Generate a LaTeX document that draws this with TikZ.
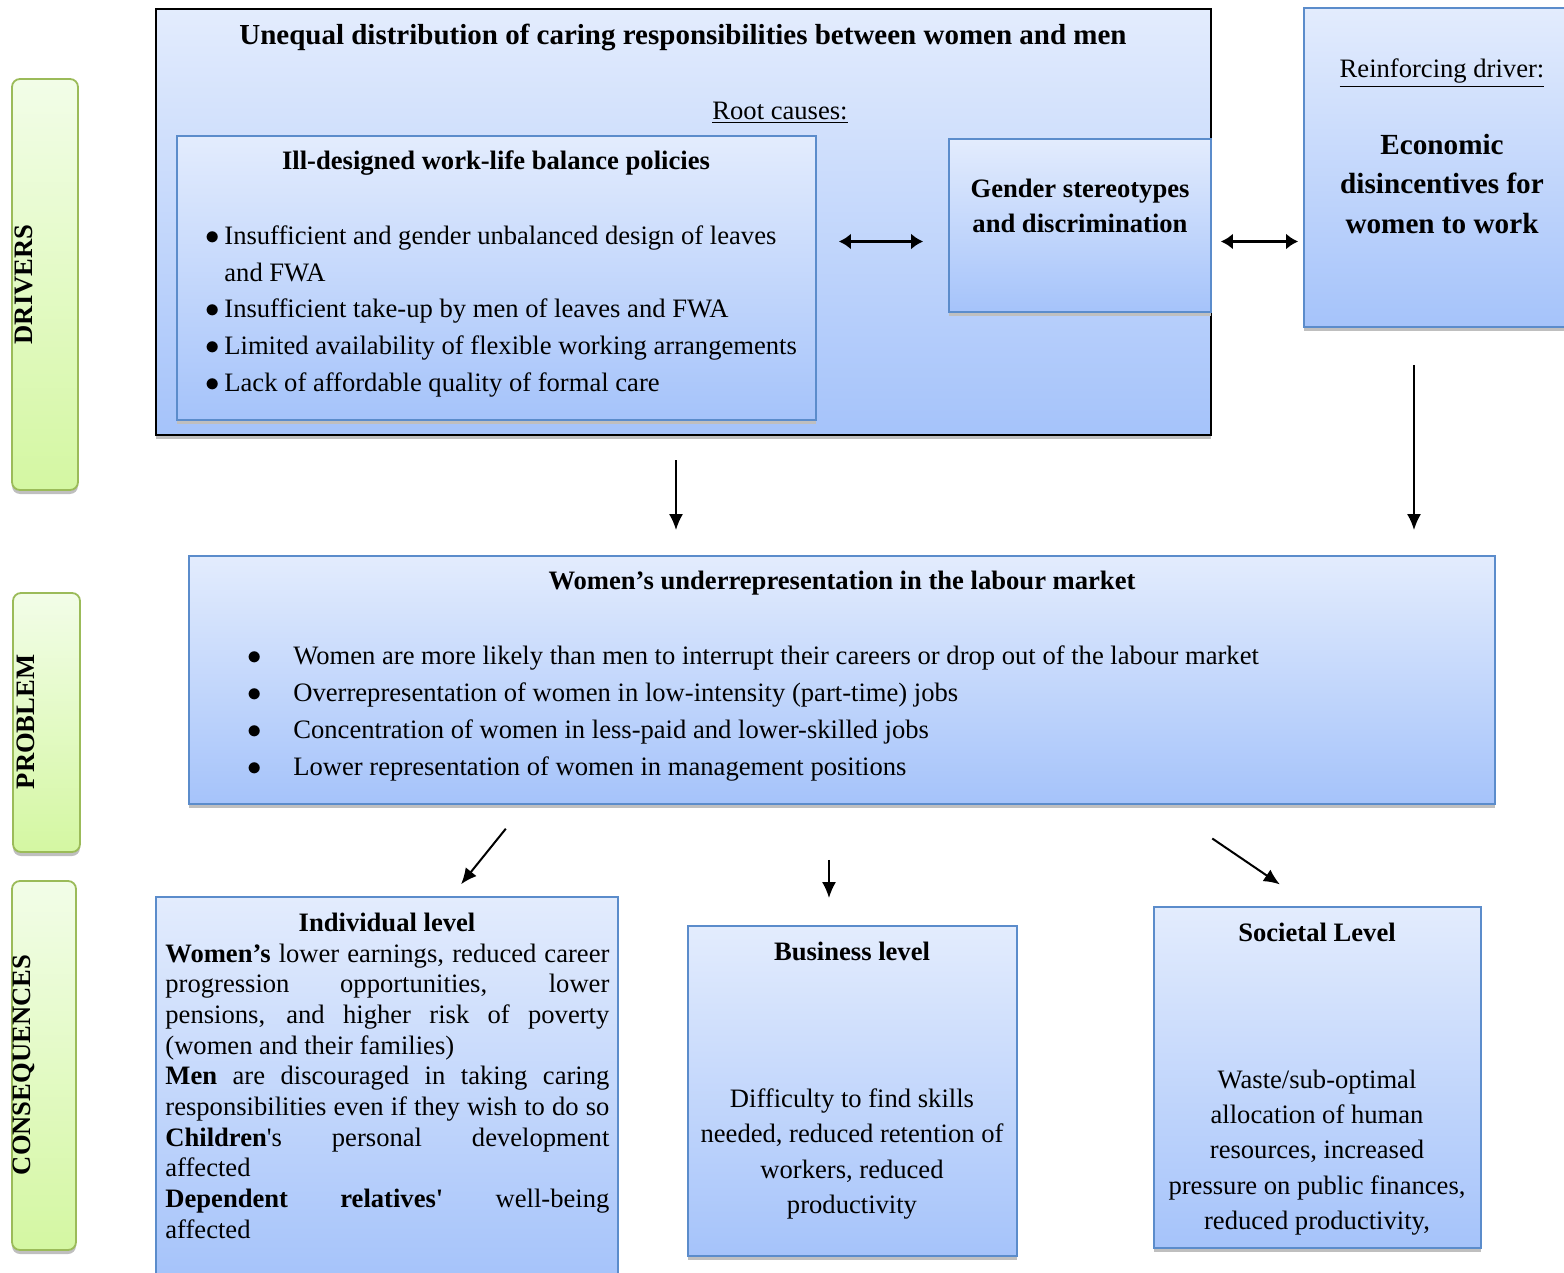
\documentclass[tikz,border=0pt]{standalone}
\usepackage{fontspec}
\setmainfont{Liberation Serif}
\usetikzlibrary{arrows.meta, shadows}

\definecolor{boxtop}{HTML}{E3ECFD}
\definecolor{boxbot}{HTML}{A5C3FA}
\definecolor{boxline}{HTML}{5B8CCB}
\definecolor{sidetop}{HTML}{F2FDE8}
\definecolor{sidebot}{HTML}{D4F7A2}
\definecolor{sideline}{HTML}{9BBB59}

\begin{document}
\begin{tikzpicture}[
  x=0.5pt, y=-0.5pt,
  box/.style={draw=boxline, line width=0.9pt, top color=boxtop, bottom color=boxbot, inner sep=0pt,
    drop shadow={shadow xshift=0pt, shadow yshift=-1.8pt, fill=black!25, opacity=1}},
  side/.style={draw=sideline, line width=0.9pt, rounded corners=4pt, top color=sidetop, bottom color=sidebot, inner sep=0pt,
    drop shadow={shadow xshift=0pt, shadow yshift=-2pt, fill=black!25, opacity=1}},
  txt/.style={inner sep=0pt, font=\fontsize{13.3}{18.4}\selectfont},
  head/.style={inner sep=0pt, font=\fontsize{13.3}{17.5}\selectfont\bfseries},
  sidetxt/.style={inner sep=0pt, rotate=90, font=\fontsize{13.3}{16}\selectfont\bfseries},
  arrow/.style={-{Latex[length=8pt, width=7pt]}, line width=1pt},
  both/.style={{Latex[length=6pt, width=8pt]}-{Latex[length=6pt, width=8pt]}, line width=1.4pt}
]
\useasboundingbox (0,0) rectangle (1564,1273);

% Side labels
\node[side, minimum width=33pt, minimum height=205.5pt] (drv) at (45,284.5) {};
\node[side, minimum width=33.5pt, minimum height=129.5pt] (prb) at (46.5,722.5) {};
\node[side, minimum width=32pt, minimum height=184.5pt] (csq) at (44,1065.5) {};
\node[sidetxt] (drvtxt) at (24,284.5) {DRIVERS};
\node[sidetxt] (prbtxt) at (26,722) {PROBLEM};
\node[sidetxt] (csqtxt) at (24,1065) {CONSEQUENCES};

% Drivers
\node[box, draw=black, line width=1pt, minimum width=527.5pt, minimum height=213pt] (causes) at (683.5,222) {};
\node[head, font=\fontsize{14.5}{17.5}\selectfont\bfseries] (causesttl) at (683,37)
  {Unequal distribution of caring responsibilities between women and men};
\node[txt] (root) at (780,113) {\underline{Root causes:}};

\node[box, minimum width=319.5pt, minimum height=142pt] (wlb) at (496.5,278) {};
\node[head] (wlbttl) at (496,163) {Ill-designed work-life balance policies};
\node[txt, anchor=west, align=left] (wlblist) at (205,311.5)
  {\makebox[9.5pt][l]{$\bullet$}Insufficient and gender unbalanced design of leaves\\
   \hspace*{9.5pt}and FWA\\
   \makebox[9.5pt][l]{$\bullet$}Insufficient take-up by men of leaves and FWA\\
   \makebox[9.5pt][l]{$\bullet$}Limited availability of flexible working arrangements\\
   \makebox[9.5pt][l]{$\bullet$}Lack of affordable quality of formal care};

\node[box, minimum width=131pt, minimum height=86.5pt] (stereo) at (1080,225.5) {};
\node[head, align=center] (stereotxt) at (1080,206) {Gender stereotypes\\and discrimination};

\node[box, minimum width=134pt, minimum height=159.5pt] (econ) at (1438,167.5) {};
\node[txt] (reinf) at (1442,73) {\underline{Reinforcing driver:}};
\node[head, align=center, font=\fontsize{14.6}{19.75}\selectfont\bfseries] (econtxt) at (1442,184)
  {Economic\\disincentives for\\women to work};

% Problem
\node[box, minimum width=653pt, minimum height=124pt] (prob) at (842,680) {};
\node[head] (probttl) at (842,583) {Women’s underrepresentation in the labour market};
\node[txt, anchor=west, align=left, font=\fontsize{13.3}{18.5}\selectfont] (problist) at (247,713.5)
  {\makebox[23pt][l]{$\bullet$}Women are more likely than men to interrupt their careers or drop out of the labour market\\
   \makebox[23pt][l]{$\bullet$}Overrepresentation of women in low-intensity (part-time) jobs\\
   \makebox[23pt][l]{$\bullet$}Concentration of women in less-paid and lower-skilled jobs\\
   \makebox[23pt][l]{$\bullet$}Lower representation of women in management positions};

% Consequences
\node[box, minimum width=231pt, minimum height=191.5pt] (indiv) at (387,1088.5) {};
\node[head] (indttl) at (387,922) {Individual level};
\node[txt, anchor=west, align=left, font=\fontsize{13.3}{15.33}\selectfont] (indtxt) at (165,1091)
  {\makebox[222pt][s]{\textbf{Women’s} lower earnings, reduced career}\\
   \makebox[222pt][s]{progression opportunities, lower}\\
   \makebox[222pt][s]{pensions, and higher risk of poverty}\\
   (women and their families)\\
   \makebox[222pt][s]{\textbf{Men} are discouraged in taking caring}\\
   \makebox[222pt][s]{responsibilities even if they wish to do so}\\
   \makebox[222pt][s]{\textbf{Children}\textquotesingle s personal development}\\
   affected\\
   \makebox[222pt][s]{\textbf{Dependent} \textbf{relatives\textquotesingle} well-being}\\
   affected};

\node[box, minimum width=164.5pt, minimum height=165pt] (bus) at (852.5,1091) {};
\node[head] (busttl) at (852,951) {Business level};
\node[txt, align=center, font=\fontsize{13.3}{17.67}\selectfont] (bustxt) at (852,1154)
  {Difficulty to find skills\\needed, reduced retention of\\workers, reduced\\productivity};

\node[box, minimum width=163.5pt, minimum height=170.5pt] (soc) at (1317.5,1077.5) {};
\node[head] (socttl) at (1317,932) {Societal Level};
\node[txt, align=center, font=\fontsize{13.3}{17.6}\selectfont] (soctxt) at (1317,1152.5)
  {Waste/sub-optimal\\allocation of human\\resources, increased\\pressure on public finances,\\reduced productivity,};

% Pointers
\coordinate (rowa) at (0,241.5);
\coordinate (cola) at (676,0);
\coordinate (colb) at (1414,0);
\coordinate (colc) at (829,0);
\draw[both, shorten <=11pt, shorten >=12.5pt] (wlb.east |- rowa) -- (stereo.west |- rowa);
\draw[both, shorten <=4.5pt, shorten >=2.5pt] (stereo.east |- rowa) -- (econ.west |- rowa);
\draw[arrow, shorten <=12pt, shorten >=12.5pt] (causes.south -| cola) -- (prob.north -| cola);
\draw[arrow, shorten <=18.5pt, shorten >=12.5pt] (econ.south -| colb) -- (prob.north -| colb);
\draw[arrow, shorten <=15.3pt, shorten >=7.6pt] ([xshift=-158.5pt]prob.south) -- ([xshift=32.25pt]indiv.north);
\draw[arrow, shorten <=27.5pt, shorten >=13.5pt] (prob.south -| colc) -- (bus.north -| colc);
\draw[arrow, shorten <=29.9pt, shorten >=19.3pt] ([xshift=160.4pt]prob.south) -- ([xshift=-2.85pt]soc.north);

\end{tikzpicture}
\end{document}
